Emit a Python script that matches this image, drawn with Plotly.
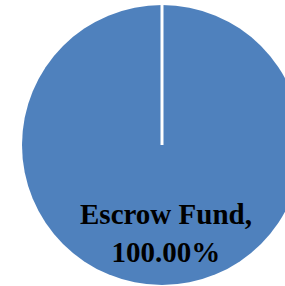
import plotly.graph_objects as go

labels = ["Escrow Fund"]
values = [100.0]
colors = ["#4F81BD"]

W, H = 324, 286
dom_x = [0.0, 1.0]
dom_y = [1 - 285 / H, 1 - 5 / H]

fig = go.Figure(go.Pie(
    labels=labels,
    values=values,
    marker=dict(colors=colors, line=dict(color="white", width=0)),
    textinfo="none",
    sort=False,
    direction="clockwise",
    rotation=0,
    domain=dict(x=dom_x, y=dom_y),
    showlegend=False,
    hoverinfo="label+percent",
))

cx = (dom_x[0] + dom_x[1]) / 2
cy = (dom_y[0] + dom_y[1]) / 2
fig.add_shape(type="line", xref="paper", yref="paper",
              x0=cx, x1=cx, y0=cy, y1=dom_y[1] + 0.01,
              line=dict(color="white", width=3))

total = sum(values)
label_text = f"<b>{labels[0]},<br>{values[0] / total * 100:.2f}%</b>"
fig.add_annotation(text=label_text, xref="paper", yref="paper",
                   x=166 / W, y=1 - 196 / H, xanchor="center", yanchor="top",
                   showarrow=False,
                   font=dict(family="Liberation Serif", size=29, color="black"),
                   align="center")

fig.update_layout(width=W, height=H, margin=dict(l=0, r=0, t=0, b=0),
                  paper_bgcolor="white", plot_bgcolor="white")

fig.write_html("out.html", config={"displayModeBar": False},
               post_script="document.body.style.margin='0';document.body.style.overflow='hidden';document.documentElement.style.overflow='hidden';")
